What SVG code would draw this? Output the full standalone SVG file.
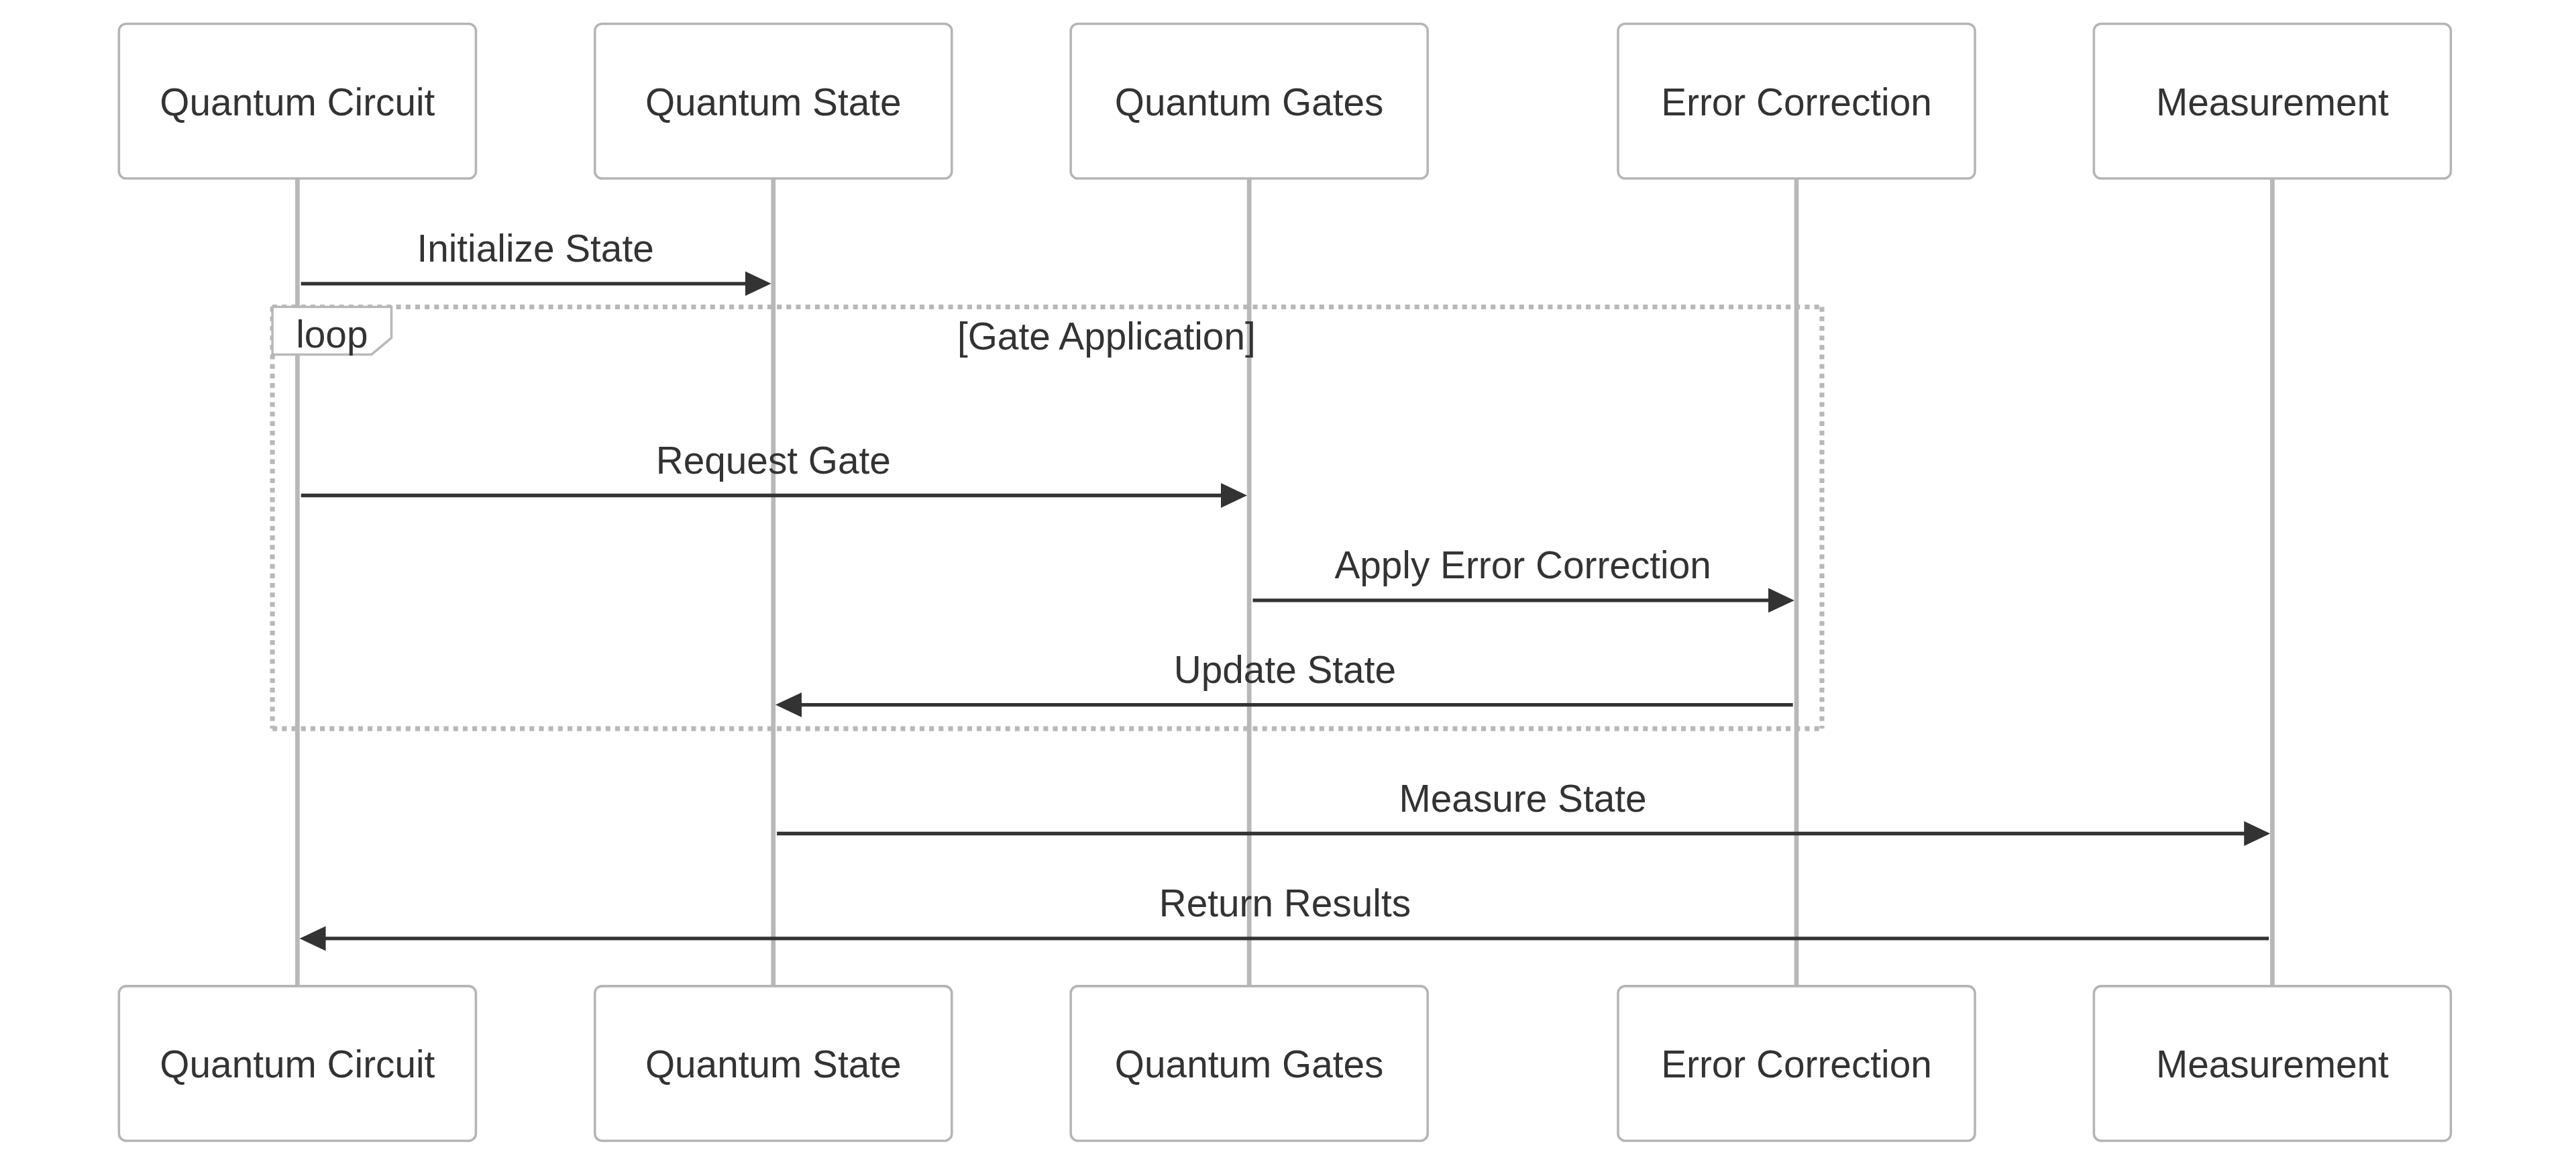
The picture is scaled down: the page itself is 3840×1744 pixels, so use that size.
<svg xmlns="http://www.w3.org/2000/svg" width="3840" height="1744" viewBox="0 0 3840 1744">
<style>
.bg{fill:#ffffff}
.actor{fill:#ffffff;stroke:#b5b5b5;stroke-width:1}
.life{stroke:#b8b8b8;stroke-width:1.9}
.msg{stroke:#333333;stroke-width:1.5;fill:none}
.loopline{stroke:#b8b8b8;stroke-width:2;stroke-dasharray:2 2;fill:none}
.labelbox{fill:#ffffff;stroke:#b8b8b8;stroke-width:1}
text{font-family:"Liberation Sans",Arial,Helvetica,sans-serif;font-size:16px;fill:#333333}
.c{text-anchor:middle}
</style>
<defs>
<marker id="arrowhead" markerUnits="userSpaceOnUse" markerWidth="13" markerHeight="13" refX="8.9" refY="5.2" orient="auto">
<path d="M0,0 L11,5.2 L0,10.4 z" fill="#333333"/>
</marker>
</defs>
<rect class="bg" x="0" y="0" width="3840" height="1744"/>
<g transform="matrix(3.547 0 0 3.547 177.35 35.47)">
<g id="lifelines">
<line class="life" x1="75" y1="65" x2="75" y2="404.4"/>
<line class="life" x1="275" y1="65" x2="275" y2="404.4"/>
<line class="life" x1="475" y1="65" x2="475" y2="404.4"/>
<line class="life" x1="705" y1="65" x2="705" y2="404.4"/>
<line class="life" x1="905" y1="65" x2="905" y2="404.4"/>
</g>
<g id="loop-gate-application">
<line class="loopline" x1="64.5" y1="119" x2="715.7" y2="119"/>
<line class="loopline" x1="715.7" y1="119" x2="715.7" y2="296.2"/>
<line class="loopline" x1="64.5" y1="296.2" x2="715.7" y2="296.2"/>
<line class="loopline" x1="64.5" y1="119" x2="64.5" y2="296.2"/>
<polygon class="labelbox" points="64.5,119 114.5,119 114.5,132 106.1,139 64.5,139"/>
<text class="c" x="89.5" y="136">loop</text>
<text class="c" x="415" y="136.9">[Gate Application]</text>
</g>
<g id="actor-quantum-circuit-top"><rect class="actor" x="0" y="0" width="150" height="65" rx="3"/><text class="c" x="75" y="38.4">Quantum Circuit</text></g>
<g id="actor-quantum-state-top"><rect class="actor" x="200" y="0" width="150" height="65" rx="3"/><text class="c" x="275" y="38.4">Quantum State</text></g>
<g id="actor-quantum-gates-top"><rect class="actor" x="400" y="0" width="150" height="65" rx="3"/><text class="c" x="475" y="38.4">Quantum Gates</text></g>
<g id="actor-error-correction-top"><rect class="actor" x="630" y="0" width="150" height="65" rx="3"/><text class="c" x="705" y="38.4">Error Correction</text></g>
<g id="actor-measurement-top"><rect class="actor" x="830" y="0" width="150" height="65" rx="3"/><text class="c" x="905" y="38.4">Measurement</text></g>
<g id="actor-quantum-circuit-bottom"><rect class="actor" x="0" y="404.4" width="150" height="65" rx="3"/><text class="c" x="75" y="442.8">Quantum Circuit</text></g>
<g id="actor-quantum-state-bottom"><rect class="actor" x="200" y="404.4" width="150" height="65" rx="3"/><text class="c" x="275" y="442.8">Quantum State</text></g>
<g id="actor-quantum-gates-bottom"><rect class="actor" x="400" y="404.4" width="150" height="65" rx="3"/><text class="c" x="475" y="442.8">Quantum Gates</text></g>
<g id="actor-error-correction-bottom"><rect class="actor" x="630" y="404.4" width="150" height="65" rx="3"/><text class="c" x="705" y="442.8">Error Correction</text></g>
<g id="actor-measurement-bottom"><rect class="actor" x="830" y="404.4" width="150" height="65" rx="3"/><text class="c" x="905" y="442.8">Measurement</text></g>
<g id="connectors">
<line class="msg" x1="76.5" y1="109.2" x2="272" y2="109.2" marker-end="url(#arrowhead)"/>
<text class="c" x="175" y="100">Initialize State</text>
<line class="msg" x1="76.5" y1="198.2" x2="472" y2="198.2" marker-end="url(#arrowhead)"/>
<text class="c" x="275" y="189">Request Gate</text>
<line class="msg" x1="476.5" y1="242.3" x2="702" y2="242.3" marker-end="url(#arrowhead)"/>
<text class="c" x="590" y="233.1">Apply Error Correction</text>
<line class="msg" x1="703.5" y1="286.2" x2="278" y2="286.2" marker-end="url(#arrowhead)"/>
<text class="c" x="490" y="277">Update State</text>
<line class="msg" x1="276.5" y1="340.3" x2="902" y2="340.3" marker-end="url(#arrowhead)"/>
<text class="c" x="590" y="331.1">Measure State</text>
<line class="msg" x1="903.5" y1="384.4" x2="78" y2="384.4" marker-end="url(#arrowhead)"/>
<text class="c" x="490" y="375.2">Return Results</text>
</g>
</g>
</svg>
